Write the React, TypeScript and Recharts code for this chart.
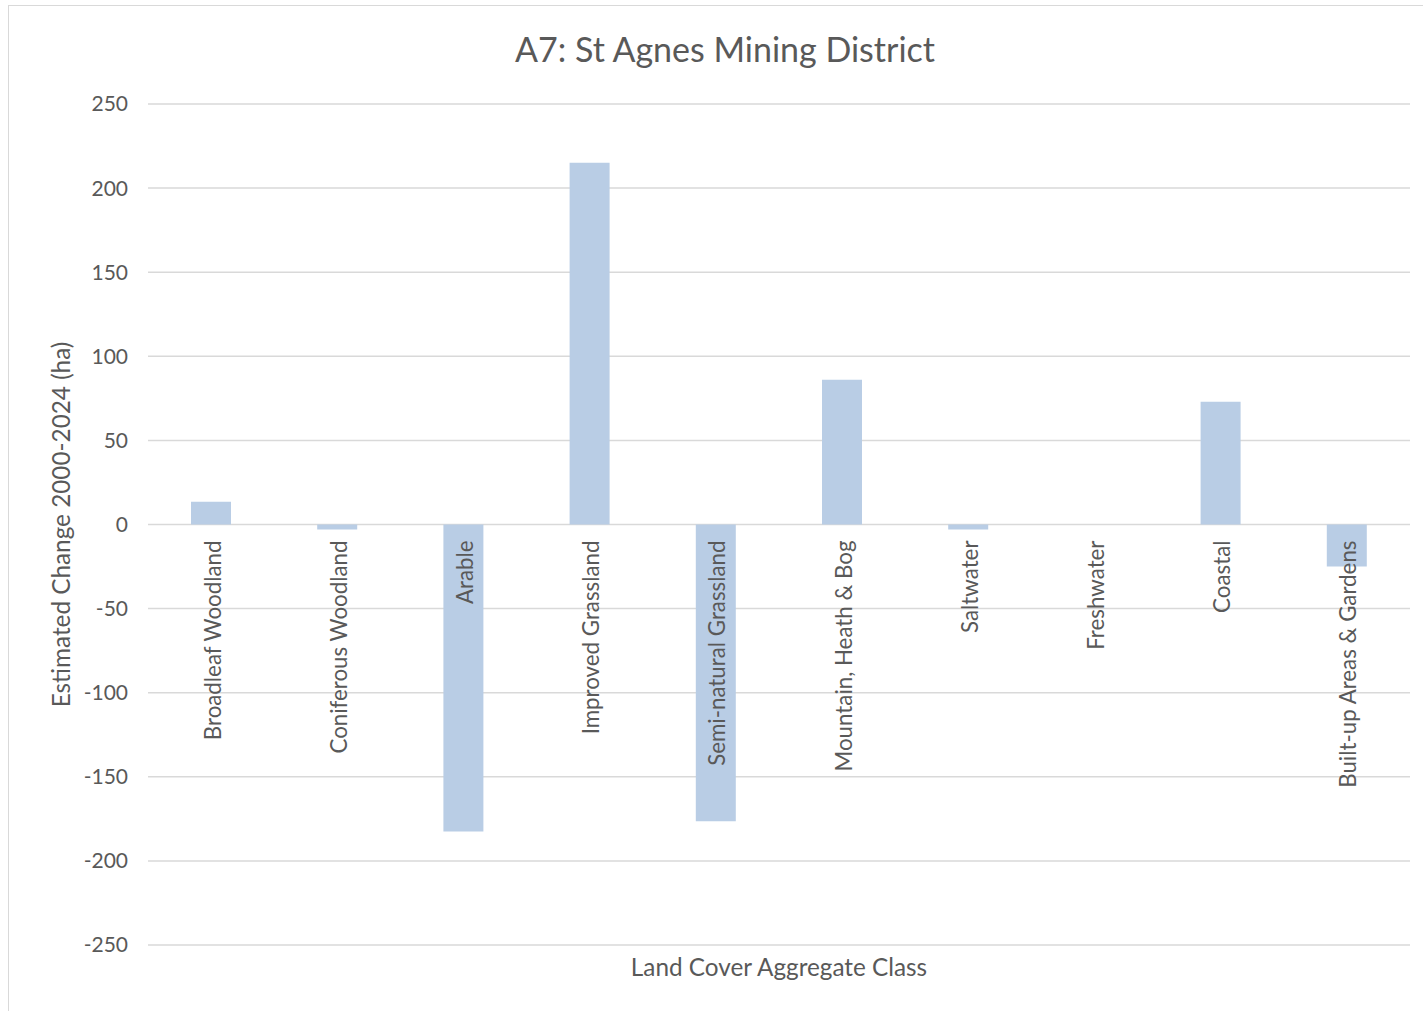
import React from 'react';
import { BarChart, Bar, XAxis, YAxis, CartesianGrid } from 'recharts';

const categories = [
  'Broadleaf Woodland',
  'Coniferous Woodland',
  'Arable',
  'Improved Grassland',
  'Semi-natural Grassland',
  'Mountain, Heath & Bog',
  'Saltwater',
  'Freshwater',
  'Coastal',
  'Built-up Areas & Gardens',
];
const changes = [13.5, -3, -182.5, 215, -176.5, 86, -3, 0, 73, -25];
const yTicks = [-250, -200, -150, -100, -50, 0, 50, 100, 150, 200, 250];
const yDomain = [-250, 250];

const title = 'A7: St Agnes Mining District';
const xTitle = 'Land Cover Aggregate Class';
const yTitle = 'Estimated Change 2000-2024 (ha)';

const data = categories.map((name, i) => ({ name, value: changes[i] }));

const FONT = 'Lato, "Noto Sans", sans-serif';
const TEXT = '#595959';
const MARGIN_TOP = 99;

const CatTick = (props: any) => {
  const { x, y, payload } = props;
  const plotBottom = Number(y);
  const plotHeight = plotBottom - MARGIN_TOP;
  const zero = plotBottom - (plotHeight * (0 - yDomain[0])) / (yDomain[1] - yDomain[0]);
  const cx = Number(x) + 1;
  const ty = zero + 16;
  return (
    <text
      x={cx}
      y={ty}
      transform={`rotate(-90, ${cx}, ${ty})`}
      textAnchor="end"
      dominantBaseline="central"
      fill={TEXT}
      fontSize={22.3}
      fontFamily={FONT}
    >
      {payload.value}
    </text>
  );
};

export default function App() {
  return (
    <div
      style={{
        position: 'absolute',
        left: 8,
        top: 5,
        width: 1420,
        height: 1010,
        borderLeft: '1px solid #d9d9d9',
        borderTop: '1px solid #d9d9d9',
        background: '#fff',
        fontFamily: FONT,
      }}
    >
      <div
        style={{
          position: 'absolute',
          left: 0,
          top: 22,
          width: 1432,
          textAlign: 'center',
          fontSize: 34,
          color: TEXT,
          fontFamily: FONT,
        }}
      >
        {title}
      </div>
      <div style={{ position: 'absolute', left: -1, top: -1 }}>
        <BarChart
          width={1415}
          height={1006}
          data={data}
          margin={{ top: MARGIN_TOP, right: 13, bottom: 0, left: 0 }}
          barSize={40}
        >
          <CartesianGrid vertical={false} stroke="#d9d9d9" strokeWidth={1.5} />
          <XAxis
            dataKey="name"
            tick={CatTick}
            interval={0}
            axisLine={false}
            tickLine={false}
            tickSize={0}
            tickMargin={0}
            height={66}
            label={(p: any) => {
              const vb = p.viewBox;
              return (
                <text
                  x={vb.x + vb.width / 2}
                  y={vb.y + 21}
                  textAnchor="middle"
                  dominantBaseline="central"
                  fill={TEXT}
                  fontSize={24.3}
                  fontFamily={FONT}
                >
                  {xTitle}
                </text>
              );
            }}
          />
          <YAxis
            type="number"
            domain={yDomain}
            ticks={yTicks}
            width={140}
            axisLine={false}
            tickLine={false}
            tickSize={0}
            tickMargin={20}
            tick={{ fill: TEXT, fontSize: 21, fontFamily: FONT }}
            label={(p: any) => {
              const vb = p.viewBox;
              const cx = vb.x + 52;
              const cy = vb.y + vb.height / 2;
              return (
                <text
                  x={cx}
                  y={cy}
                  transform={`rotate(-90, ${cx}, ${cy})`}
                  textAnchor="middle"
                  dominantBaseline="central"
                  fill={TEXT}
                  fontSize={24.3}
                  fontFamily={FONT}
                >
                  {yTitle}
                </text>
              );
            }}
          />
          <Bar dataKey="value" fill="#b9cde5" isAnimationActive={false} />
        </BarChart>
      </div>
    </div>
  );
}
